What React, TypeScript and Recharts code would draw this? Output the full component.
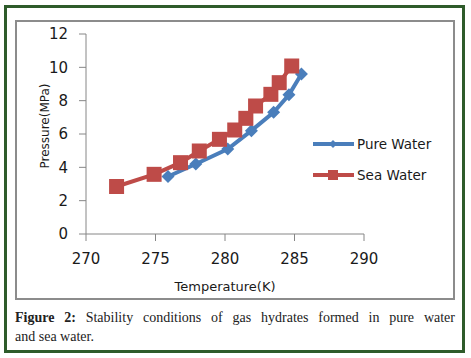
import { Legend, Line, LineChart, XAxis, YAxis } from "recharts";

// Hydrate stability data (temperature in K, pressure in MPa)
const pureTemp = [275.9, 277.9, 280.2, 281.9, 283.5, 284.6, 285.5];
const purePressure = [3.45, 4.2, 5.1, 6.2, 7.3, 8.35, 9.6];

const seaTemp = [272.2, 274.9, 276.8, 278.15, 279.6, 280.7, 281.5, 282.2, 283.3, 283.9, 284.8];
const seaPressure = [2.85, 3.58, 4.28, 4.98, 5.68, 6.24, 6.94, 7.68, 8.38, 9.08, 10.08];

const xTicks = [270, 275, 280, 285, 290];
const yTicks = [0, 2, 4, 6, 8, 10, 12];

const COLORS = {
  pure: "#4a7ebb",
  sea: "#be4b48",
  axis: "#868686",
  text: "#1a1a1a",
};

const FONT = "'DejaVu Sans', sans-serif";

const pureData = pureTemp.map((t, i) => ({ t, p: purePressure[i] }));
const seaData = seaTemp.map((t, i) => ({ t, p: seaPressure[i] }));

function renderDiamond(props: any) {
  const { cx, cy, index } = props;
  const r = 6.5;
  return (
    <polygon
      key={`d-${index}`}
      points={`${cx},${cy - r} ${cx + r},${cy} ${cx},${cy + r} ${cx - r},${cy}`}
      fill={COLORS.pure}
    />
  );
}

function renderSquare(props: any) {
  const { cx, cy, index } = props;
  const s = 15;
  return (
    <rect
      key={`s-${index}`}
      x={cx - s / 2}
      y={cy - s / 2}
      width={s}
      height={s}
      fill={COLORS.sea}
    />
  );
}

function LegendContent() {
  const rows = [
    { name: "Pure Water", color: COLORS.pure, shape: "diamond" },
    { name: "Sea Water", color: COLORS.sea, shape: "square" },
  ];
  return (
    <div style={{ fontFamily: FONT, fontSize: 13.5, color: COLORS.text }}>
      {rows.map((r) => (
        <div key={r.name} style={{ display: "flex", alignItems: "center", height: 31 }}>
          <svg width={44} height={14}>
            <line x1={0} y1={7} x2={41} y2={7} stroke={r.color} strokeWidth={4} />
            {r.shape === "diamond" ? (
              <polygon points="20,3 24,7 20,11 16,7" fill={r.color} />
            ) : (
              <rect x={15} y={2} width={10} height={10} fill={r.color} />
            )}
          </svg>
          <span>{r.name}</span>
        </div>
      ))}
    </div>
  );
}

export default function App() {
  return (
    <div
      style={{
        position: "absolute",
        left: 0,
        top: 0,
        width: 471,
        height: 358,
        background: "#fff",
      }}
    >
      <div
        style={{
          position: "absolute",
          left: 4,
          top: 5,
          width: 455,
          height: 342,
          border: "3px solid #2e5b2a",
        }}
      />
      <div
        style={{
          position: "absolute",
          left: 15,
          top: 20,
          width: 436,
          height: 276,
          border: "2px solid #8c8c8c",
        }}
      />
      <div style={{ position: "absolute", left: 15, top: 20 }}>
        <LineChart
          width={438}
          height={278}
          margin={{ top: 14, right: 89, left: 0, bottom: 0 }}
        >
          <XAxis
            type="number"
            dataKey="t"
            domain={[270, 290]}
            ticks={xTicks}
            allowDataOverflow
            height={64}
            stroke={COLORS.axis}
            tickSize={7}
            tickMargin={12}
            tick={{ fill: COLORS.text, fontSize: 15, fontFamily: FONT }}
            label={{
              value: "Temperature(K)",
              position: "insideBottom",
              offset: 7,
              fill: COLORS.text,
              fontSize: 13,
              fontFamily: FONT,
            }}
          />
          <YAxis
            type="number"
            dataKey="p"
            domain={[0, 12]}
            ticks={yTicks}
            width={71}
            stroke={COLORS.axis}
            tickSize={7}
            tickMargin={11}
            tick={{ fill: COLORS.text, fontSize: 15, fontFamily: FONT }}
            label={{
              value: "Pressure(MPa)",
              angle: -90,
              position: "insideLeft",
              offset: 30,
              dy: -8,
              fill: COLORS.text,
              fontSize: 12,
              fontFamily: FONT,
              style: { textAnchor: "middle" },
            }}
          />
          <Legend
            layout="horizontal"
            verticalAlign="middle"
            align="center"
            content={<LegendContent />}
            wrapperStyle={{ left: 298, top: 108, width: 140 }}
          />
          <Line
            data={pureData}
            dataKey="p"
            name="Pure Water"
            stroke={COLORS.pure}
            strokeWidth={4}
            dot={renderDiamond}
            activeDot={false}
            isAnimationActive={false}
          />
          <Line
            data={seaData}
            dataKey="p"
            name="Sea Water"
            stroke={COLORS.sea}
            strokeWidth={4}
            dot={renderSquare}
            activeDot={false}
            isAnimationActive={false}
          />
        </LineChart>
      </div>
      <div
        style={{
          position: "absolute",
          left: 15,
          top: 308,
          width: 440,
          fontFamily: "'Liberation Serif', serif",
          fontSize: 14,
          lineHeight: "19px",
          color: "#222",
        }}
      >
        <div style={{ textAlign: "justify", textAlignLast: "justify" }}>
          <b>Figure 2:</b> Stability conditions of gas hydrates formed in pure water
        </div>
        <div>and sea water.</div>
      </div>
    </div>
  );
}
